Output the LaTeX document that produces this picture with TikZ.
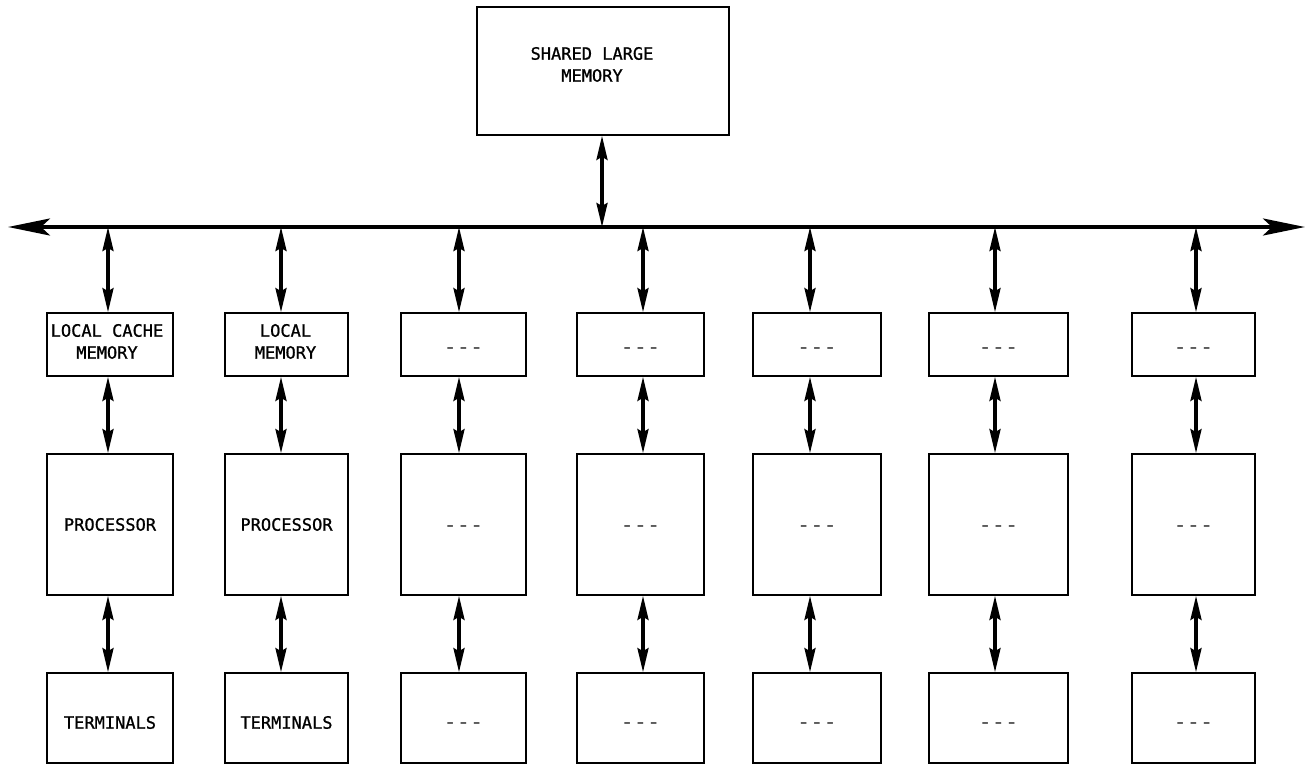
\documentclass[tikz,border=0pt]{standalone}
\usepackage{fontspec}
\newfontfamily\letterfont[FakeBold=1]{DejaVu Sans Mono}
\newfontfamily\fillerfont{DejaVu Sans Mono}
\usetikzlibrary{arrows.meta}
\begin{document}
\begin{tikzpicture}[x=1pt,y=-1pt,
  unitbox/.style={draw, rectangle, line width=1.7pt, inner sep=0pt},
  lettering/.style={font=\letterfont\fontsize{17}{22}\selectfont, align=center, inner sep=0pt},
  filler/.style={font=\fillerfont\fontsize{22}{22}\selectfont, text=black!70, inner sep=0pt},
  link/.style={line width=3.2pt, {Stealth[length=24pt,width=11pt,inset=3pt]}-{Stealth[length=24pt,width=11pt,inset=3pt]}},
  busline/.style={line width=3.8pt, {Stealth[length=42pt,width=17pt,inset=9pt]}-{Stealth[length=42pt,width=17pt,inset=9pt]}}
]
\useasboundingbox (0,0) rectangle (1312,766);

% shared memory and the common bus
\node[unitbox, minimum width=252pt, minimum height=128pt] (slm) at (603,71) {};
\node[lettering] (slmtext) at (592,64.5) {SHARED LARGE\\MEMORY};
\coordinate (busW) at (8,227);
\coordinate (busE) at (1305,227);
\draw[busline] (busW) -- (busE);
\coordinate (tapM) at (602,227);
\draw[link] (slm.south -| tapM) -- (tapM);

% one column per processor: local memory, processor, terminals
\foreach \i/\l/\r/\a in {1/47/173/108, 2/225/348/281, 3/401/526/459,
                         4/577/704/643, 5/753/881/810, 6/929/1068/995,
                         7/1132/1255/1196} {
  \pgfmathsetmacro\colx{(\l+\r)/2}
  \pgfmathsetmacro\colw{\r-\l}
  \node[unitbox, minimum width=\colw pt, minimum height=63pt]  (L\i) at (\colx,344.5) {};
  \node[unitbox, minimum width=\colw pt, minimum height=141pt] (P\i) at (\colx,524.5) {};
  \node[unitbox, minimum width=\colw pt, minimum height=90pt]  (T\i) at (\colx,718) {};
  \coordinate (tap\i) at (\a,227);
  \draw[link] (tap\i) -- (L\i.north -| tap\i);
  \draw[link] (L\i.south -| tap\i) -- (P\i.north -| tap\i);
  \draw[link] (P\i.south -| tap\i) -- (T\i.north -| tap\i);
}

% labels of the first two columns
\node[lettering] (L1text) at ([xshift=-3pt,yshift=3pt]L1.center) {LOCAL CACHE\\MEMORY};
\node[lettering] (L2text) at ([xshift=-1pt,yshift=3pt]L2.center) {LOCAL\\MEMORY};
\foreach \i in {1,2} {
  \node[lettering] (P\i text) at (P\i.center) {PROCESSOR};
  \node[lettering] (T\i text) at ([yshift=-4.5pt]T\i.center) {TERMINALS};
}

% remaining columns are left open
\foreach \i in {3,...,7} {
  \node[filler] (L\i text) at ([yshift=-6.5pt]L\i.center) {-{}-{}-};
  \node[filler] (P\i text) at ([yshift=-5pt]P\i.center) {-{}-{}-};
  \node[filler] (T\i text) at ([yshift=-8pt]T\i.center) {-{}-{}-};
}
\end{tikzpicture}
\end{document}
